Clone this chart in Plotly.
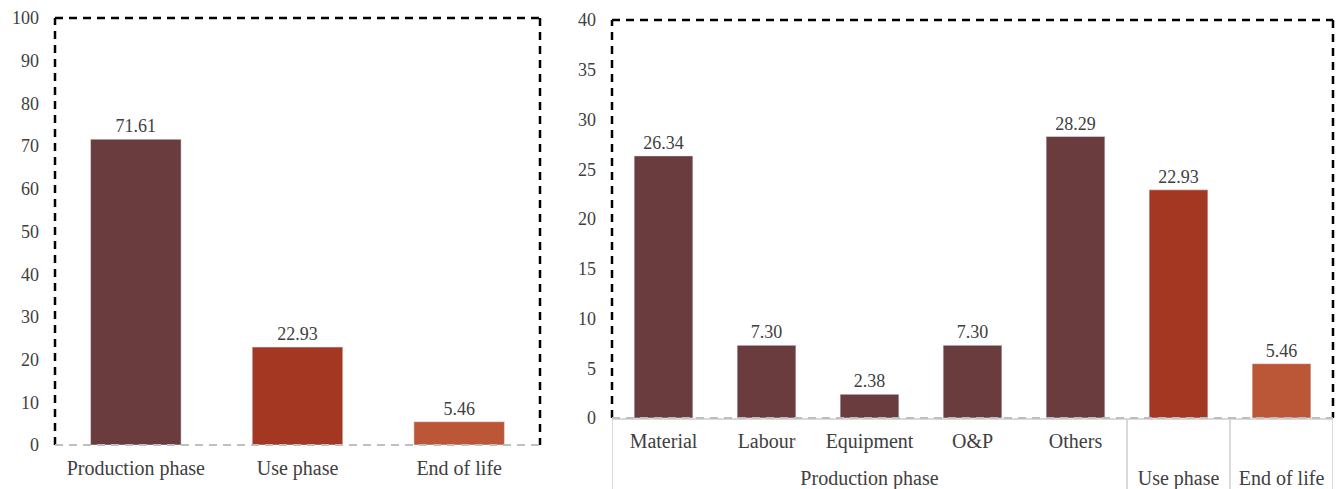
import plotly.graph_objects as go

# Left chart data
phases = ["Production phase", "Use phase", "End of life"]
phase_values = [71.61, 22.93, 5.46]

# Right chart data
groups = ["Production phase"] * 5 + ["Use phase", "End of life"]
subcats = ["Material", "Labour", "Equipment", "O&P", "Others", " ", "  "]
sub_values = [26.34, 7.30, 2.38, 7.30, 28.29, 22.93, 5.46]

left_ticks = [0, 10, 20, 30, 40, 50, 60, 70, 80, 90, 100]
right_ticks = [0, 5, 10, 15, 20, 25, 30, 35, 40]

C_PROD = "#6B3C3E"
C_USE = "#A43722"
C_EOL = "#BB5737"
phase_colors = [C_PROD, C_USE, C_EOL]
sub_colors = [C_PROD] * 5 + [C_USE, C_EOL]

FONT = "Liberation Serif"
TXT = "#404040"
NUMF = dict(family=FONT, size=18, color=TXT)
CATF = dict(family=FONT, size=20, color=TXT)
GRID = "#D9D9D9"

# group spans (computed from the group list)
spans = []
for i, g in enumerate(groups):
    if spans and spans[-1][0] == g:
        spans[-1][2] = i
    else:
        spans.append([g, i, i])
group_names = [s[0] for s in spans]
group_centers = [(s[1] + s[2]) / 2 for s in spans]
boundaries = [spans[0][1] - 0.5] + [s[2] + 0.5 for s in spans]

fig = go.Figure()
fig.add_trace(go.Bar(
    x=phases, y=phase_values, marker_color=phase_colors, width=0.56,
    text=[f"{v:.2f}" for v in phase_values], textposition="outside",
    textfont=NUMF, cliponaxis=False,
    xaxis="x", yaxis="y", showlegend=False, hoverinfo="skip",
))
fig.add_trace(go.Bar(
    x=list(range(len(subcats))), y=sub_values, marker_color=sub_colors, width=0.57,
    text=[f"{v:.2f}" for v in sub_values], textposition="outside",
    textfont=NUMF, cliponaxis=False,
    xaxis="x2", yaxis="y2", showlegend=False, hoverinfo="skip",
))

L = [55 / 1338, 540 / 1338]
R = [612 / 1338, 1333 / 1338]
LY = [1 - 445 / 489, 1 - 18 / 489]
RY = [1 - 418 / 489, 1 - 20 / 489]
xr = [-0.5, len(subcats) - 0.5]

fig.update_layout(
    width=1338, height=489,
    margin=dict(l=0, r=0, t=0, b=0, autoexpand=False),
    paper_bgcolor="white", plot_bgcolor="white",
    font=dict(family=FONT, size=18, color=TXT),
    xaxis=dict(domain=L, anchor="y", showgrid=False, showline=False, automargin=False,
               ticks="", tickfont=CATF, ticklabelstandoff=9, fixedrange=True),
    yaxis=dict(domain=LY, anchor="x", range=[0, 100], tickvals=left_ticks, automargin=False,
               showgrid=False, zeroline=False, showline=False, ticks="",
               ticklabelstandoff=15, tickfont=NUMF),
    xaxis2=dict(domain=R, anchor="y2", range=xr, showgrid=False, automargin=False,
                zeroline=False, showline=True, linecolor=GRID, linewidth=2,
                tickvals=list(range(len(subcats))), ticktext=subcats,
                ticks="", tickfont=CATF, ticklabelstandoff=4),
    xaxis3=dict(domain=R, anchor="y2", overlaying="x2", range=xr, showgrid=False,
                automargin=False, zeroline=False, showline=False,
                tickvals=group_centers, ticktext=group_names,
                ticks="", tickfont=CATF, ticklabelstandoff=46),
    yaxis2=dict(domain=RY, anchor="x2", range=[0, 40], tickvals=right_ticks, automargin=False,
                showgrid=False, zeroline=False, showline=False, ticks="",
                ticklabelstandoff=15, tickfont=NUMF),
)

# group dividers below the right chart
for b in boundaries:
    fig.add_shape(type="line", xref="x3", yref="paper", x0=b, x1=b, y0=0, y1=RY[0],
                  line=dict(color=GRID, width=2))

# dashed frames
for (xd, yd) in [(L, LY), (R, RY)]:
    x0, x1 = xd
    y0, y1 = yd
    for (a, b, c, d) in [(x0, y0, x0, y1), (x0, y1, x1, y1), (x1, y1, x1, y0)]:
        fig.add_shape(type="line", xref="paper", yref="paper", x0=a, y0=b, x1=c, y1=d,
                      line=dict(color="black", width=2.5, dash="8px,6px"))
    fig.add_shape(type="line", xref="paper", yref="paper", x0=x0, y0=y0, x1=x1, y1=y0,
                  line=dict(color="#BFBFBF", width=2, dash="8px,6px"))

fig.write_html("out.html", config={"displayModeBar": False},
               post_script="document.body.style.margin='0';")
